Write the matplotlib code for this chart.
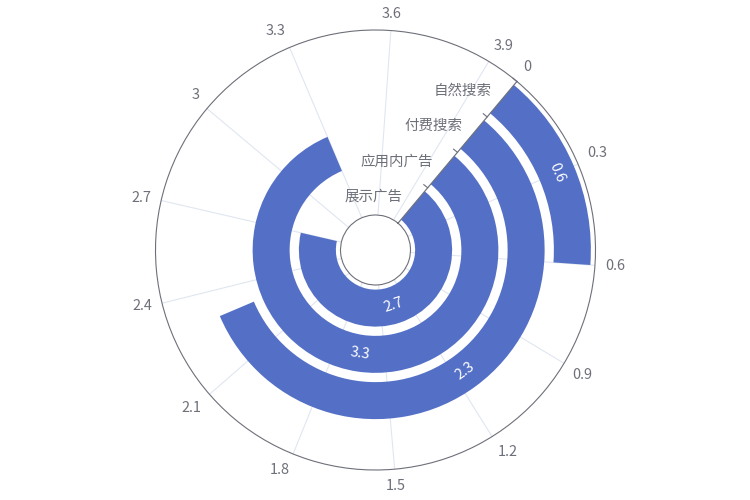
import numpy as np
import matplotlib
matplotlib.use("Agg")
import matplotlib.pyplot as plt

plt.rcParams['font.family'] = ['Noto Sans CJK SC', 'DejaVu Sans']

categories = ['展示广告', '应用内广告', '付费搜索', '自然搜索']
values = [2.7, 3.3, 2.3, 0.6]
angle_max = 4
angle_ticks = [0, 0.3, 0.6, 0.9, 1.2, 1.5, 1.8, 2.1, 2.4, 2.7, 3.0, 3.3, 3.6, 3.9]
angle_tick_labels = ['0', '0.3', '0.6', '0.9', '1.2', '1.5', '1.8', '2.1', '2.4', '2.7',
                     '3', '3.3', '3.6', '3.9']

BAR = '#5470c6'
AXIS = '#6e7079'
GRID = '#E0E6F1'
FS = 14.5 * 0.72
LW = 0.8

# geometry (pixels)
CX, CY, R_OUT, R_IN = 375.5, 250, 220, 35
START_DEG = 40  # clockwise from top

fig = plt.figure(figsize=(7.5, 5), dpi=100)
ax = fig.add_axes([(CX - R_OUT) / 750, (CY - R_OUT) / 500, 2 * R_OUT / 750, 2 * R_OUT / 500],
                  projection='polar')
ax.set_theta_direction(-1)
ax.set_theta_offset(np.deg2rad(90 - START_DEG))
n = len(categories)
band_px = (R_OUT - R_IN) / n
ax.set_ylim(0, n)
ax.set_rorigin(-R_IN / band_px)


def th(v):
    return v / angle_max * 2 * np.pi


ax.set_axisbelow(True)
ax.set_xticks([th(t) for t in angle_ticks])
ax.set_xticklabels([])
ax.xaxis.grid(True, color=GRID, lw=LW)
ax.set_yticks([])
ax.tick_params(axis='x', direction='out', length=5 * 0.72, width=LW, color=AXIS)
for name, sp in ax.spines.items():
    sp.set_color(AXIS)
    sp.set_linewidth(LW)

# bars
for i, v in enumerate(values):
    ax.bar(0, 0.8, width=th(v), bottom=i + 0.1, align='edge', color=BAR,
           edgecolor='none', zorder=2)
    mid = th(v) / 2
    a = START_DEG + v / angle_max * 360 / 2
    rot = (-a) % 360
    if 90 < rot <= 270:
        rot -= 180
    ax.text(mid, i + 0.5, f'{v:g}', rotation=rot, rotation_mode='anchor',
            ha='center', va='center', color='white', fontsize=FS, zorder=4)

# radial axis line and ticks
ax.plot([0, 0], [0, n], color=AXIS, lw=LW, zorder=5, clip_on=False)
for k in range(1, n + 1):
    rpx = R_IN + band_px * k
    ax.plot([-5 / rpx, 0], [k, k], color=AXIS, lw=LW, zorder=5, clip_on=False)

# category labels
sa = np.deg2rad(START_DEG)
nx, ny = -np.cos(sa), np.sin(sa)
for i, c in enumerate(categories):
    ax.annotate(c, xy=(0, i + 0.5), xytext=(nx * 13, ny * 13), textcoords='offset pixels',
                ha='right', va='center', color=AXIS, fontsize=FS, annotation_clip=False)

# angle labels
for t, lab in zip(angle_ticks, angle_tick_labels):
    a = np.deg2rad(START_DEG + t / angle_max * 360)
    dx, dy = np.sin(a), np.cos(a)
    ha = 'center' if abs(dx) < 0.3 else ('left' if dx > 0 else 'right')
    va = 'center' if abs(dy) < 0.3 else ('bottom' if dy > 0 else 'top')
    ax.annotate(lab, xy=(th(t), n), xytext=(dx * 10, dy * 10), textcoords='offset pixels',
                ha=ha, va=va, color=AXIS, fontsize=FS, annotation_clip=False)

fig.savefig('out.png', dpi=100)
